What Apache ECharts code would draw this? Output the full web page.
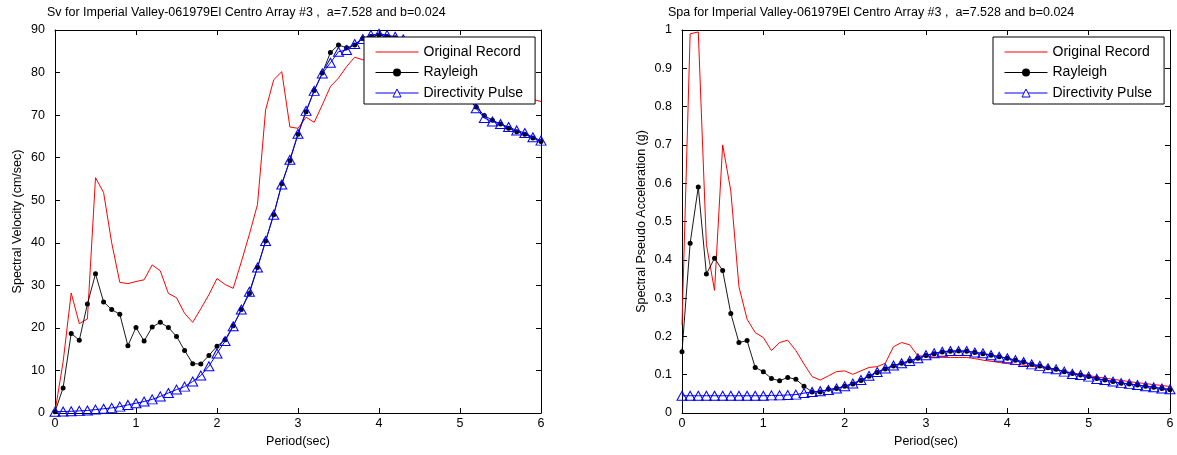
<!DOCTYPE html>
<html><head><meta charset="utf-8">
<script src="https://cdn.jsdelivr.net/npm/echarts@6.0.0/dist/echarts.min.js"></script>
<style>html,body{margin:0;padding:0;background:#fff}#c{width:1177px;height:455px}</style>
</head><body><div id="c"></div>
<script>
const periods = [0,0.1,0.2,0.3,0.4,0.5,0.6,0.7,0.8,0.9,1.0,1.1,1.2,1.3,1.4,1.5,1.6,1.7,1.8,1.9,2.0,2.1,2.2,2.3,2.4,2.5,2.6,2.7,2.8,2.9,3.0,3.1,3.2,3.3,3.4,3.5,3.6,3.7,3.8,3.9,4.0,4.1,4.2,4.3,4.4,4.5,4.6,4.7,4.8,4.9,5.0,5.1,5.2,5.3,5.4,5.5,5.6,5.7,5.8,5.9,6.0];

const seriesNames = ['Original Record', 'Rayleigh', 'Directivity Pulse'];
const titleSv = 'Sv for Imperial Valley-061979El Centro Array #3 ,  a=7.528 and b=0.024';
const titleSpa = 'Spa for Imperial Valley-061979El Centro Array #3 ,  a=7.528 and b=0.024';
const xName = 'Period(sec)';
const yNameSv = 'Spectral Velocity (cm/sec)';
const yNameSpa = 'Spectral Pseudo Acceleration (g)';

// Left chart: spectral velocity (cm/sec)
const svOriginal = [0.3,12,28.2,21,22.1,55.3,51.8,40,30.7,30.4,30.9,31.3,34.8,33.4,28.1,27.1,23.4,21.3,24.5,27.8,31.6,30.2,29.3,35.5,42,49,71.2,78.3,80.2,67.2,66.9,69.5,68.3,72.4,76.7,78.7,81.4,83.6,83,83.5,84,83.8,83.5,83,82.5,82,81.3,80.7,80,79.3,78.6,78,77.3,76.7,76.2,75.7,75.2,74.7,74.2,73.7,73.2];
const svRayleigh = [0.3,5.9,18.7,17.1,25.6,32.7,26.1,24.3,23.2,15.8,20.1,16.9,20.2,21.3,20.1,18.0,14.7,11.6,11.5,13.5,15.7,17.2,20.5,24.3,28.1,34.2,40.4,46.6,53.9,59.3,65.5,70.8,75.8,79.9,84.7,86.5,85.8,86.5,88,88.5,88.8,88.5,88.2,87.6,86.8,85.8,84.6,83.2,81.5,79.2,76.8,74.3,71.9,69.9,68.8,67.9,66.9,66.1,65.5,64.6,63.8];
const svPulse = [0.3,0.35,0.4,0.5,0.6,0.8,1.0,1.2,1.5,1.9,2.3,2.7,3.2,3.9,4.7,5.5,6.2,7.4,8.8,11.0,14.0,16.9,20.4,24.3,28.5,34.2,40.4,46.6,53.7,59.5,65.6,71.0,75.7,79.8,82.3,84.9,85.3,86.7,87.9,88.8,89.1,88.8,88.4,87.8,87.0,86.0,84.8,83.3,81.6,79.3,76.8,74.2,71.6,69.3,68.5,67.9,67.2,66.4,65.8,64.8,64.0];

// Right chart: spectral pseudo acceleration (g)
const spaOriginal = [0.23,0.99,0.995,0.44,0.32,0.70,0.58,0.33,0.245,0.21,0.197,0.163,0.184,0.19,0.163,0.128,0.095,0.086,0.097,0.108,0.11,0.101,0.11,0.119,0.121,0.13,0.173,0.184,0.178,0.149,0.149,0.146,0.145,0.145,0.145,0.145,0.142,0.138,0.135,0.132,0.129,0.127,0.125,0.122,0.119,0.116,0.113,0.109,0.105,0.101,0.098,0.094,0.091,0.088,0.085,0.082,0.079,0.077,0.074,0.072,0.069];
const spaRayleigh = [0.16,0.443,0.59,0.363,0.404,0.372,0.26,0.184,0.189,0.119,0.108,0.09,0.084,0.093,0.088,0.07,0.055,0.055,0.062,0.064,0.07,0.076,0.085,0.096,0.106,0.115,0.123,0.13,0.136,0.143,0.15,0.155,0.159,0.161,0.162,0.161,0.158,0.155,0.151,0.147,0.143,0.138,0.133,0.127,0.123,0.118,0.114,0.108,0.103,0.099,0.095,0.09,0.086,0.082,0.078,0.076,0.073,0.07,0.067,0.064,0.061];
const spaPulse = [0.045,0.045,0.045,0.045,0.045,0.045,0.045,0.045,0.045,0.045,0.045,0.046,0.046,0.047,0.048,0.052,0.055,0.057,0.06,0.064,0.07,0.077,0.086,0.097,0.107,0.116,0.124,0.13,0.136,0.143,0.151,0.156,0.16,0.162,0.162,0.162,0.158,0.156,0.151,0.147,0.143,0.138,0.133,0.127,0.123,0.117,0.114,0.108,0.102,0.099,0.095,0.089,0.086,0.082,0.078,0.076,0.073,0.07,0.067,0.064,0.062];

const FONT = '"Liberation Sans", Arial, Helvetica, sans-serif';
function pairs(xs, ys) { return xs.map((x, i) => [x, ys[i]]); }

function xAxisDef(grid, pos, withLabels) {
  return {
    type: 'value', gridIndex: grid, position: pos, min: 0, max: 6, interval: 1,
    axisLine: { show: true, onZero: false, lineStyle: { color: '#000', width: 1 } },
    axisTick: { show: true, inside: true, length: 5, lineStyle: { color: '#000' } },
    axisLabel: { show: withLabels, color: '#000', fontSize: 12.5, fontFamily: FONT, margin: 4 },
    splitLine: { show: false },
    name: withLabels ? xName : '', nameLocation: 'middle', nameGap: 20,
    nameTextStyle: { color: '#000', fontSize: 12.5, fontFamily: FONT }
  };
}
function yAxisDef(grid, pos, withLabels, max, interval, name, gap) {
  return {
    type: 'value', gridIndex: grid, position: pos, min: 0, max: max, interval: interval,
    axisLine: { show: true, onZero: false, lineStyle: { color: '#000', width: 1 } },
    axisTick: { show: true, inside: true, length: 5, lineStyle: { color: '#000' } },
    axisLabel: { show: withLabels, color: '#000', fontSize: 12.5, fontFamily: FONT, margin: 10 },
    splitLine: { show: false },
    name: withLabels ? name : '', nameLocation: 'middle', nameGap: gap,
    nameTextStyle: { color: '#000', fontSize: 12.5, fontFamily: FONT }
  };
}
function makeSeries(xi, yi, orig, ray, pulse) {
  return [
    { name: seriesNames[0], type: 'line', xAxisIndex: xi, yAxisIndex: yi, data: pairs(periods, orig),
      symbol: 'none', showSymbol: false, lineStyle: { color: '#ff0000', width: 1 }, itemStyle: { color: '#ff0000' },
      emphasis: { disabled: true }, z: 2 },
    { name: seriesNames[1], type: 'line', xAxisIndex: xi, yAxisIndex: yi, data: pairs(periods, ray),
      symbol: 'circle', symbolSize: 5, showAllSymbol: true, lineStyle: { color: '#000', width: 0.9 },
      itemStyle: { color: '#000' }, emphasis: { disabled: true }, z: 3 },
    { name: seriesNames[2], type: 'line', xAxisIndex: xi, yAxisIndex: yi, data: pairs(periods, pulse),
      symbol: 'triangle', symbolSize: [10, 9], showAllSymbol: true, lineStyle: { color: '#0000ff', width: 1 },
      itemStyle: { color: 'rgba(0,0,0,0)', borderColor: '#0000ff', borderWidth: 1 }, emphasis: { disabled: true }, z: 4 }
  ];
}
function legendDef(left) {
  return {
    data: [
      { name: seriesNames[0], itemStyle: { color: 'rgba(0,0,0,0)', borderWidth: 0, opacity: 0 } },
      { name: seriesNames[1] },
      { name: seriesNames[2], itemStyle: { color: '#fff', borderColor: '#0000ff', borderWidth: 1 } }
    ],
    orient: 'vertical', left: left, top: 37,
    padding: [8, 12, 4, 11], itemWidth: 43, itemHeight: 10, itemGap: 6.5,
    lineStyle: { width: 1 },
    borderColor: '#000', borderWidth: 1, backgroundColor: '#fff',
    textStyle: { color: '#000', fontSize: 14, fontFamily: FONT },
    selectedMode: false, z: 10
  };
}

const chart = echarts.init(document.getElementById('c'), null, { renderer: 'canvas' });
chart.setOption({
  animation: false,
  backgroundColor: '#fff',
  title: [
    { text: titleSv, left: 47, top: 6, padding: 0, textStyle: { fontSize: 12.5, fontWeight: 'normal', color: '#000', fontFamily: FONT } },
    { text: titleSpa, left: 668, top: 6, padding: 0, textStyle: { fontSize: 12.5, fontWeight: 'normal', color: '#000', fontFamily: FONT } }
  ],
  legend: [legendDef(364), legendDef(993)],
  grid: [
    { left: 55, right: 636, top: 30, bottom: 42, containLabel: false },
    { left: 682, right: 7, top: 30, bottom: 42, containLabel: false }
  ],
  xAxis: [xAxisDef(0, 'bottom', true), xAxisDef(0, 'top', false), xAxisDef(1, 'bottom', true), xAxisDef(1, 'top', false)],
  yAxis: [
    yAxisDef(0, 'left', true, 90, 10, yNameSv, 31), yAxisDef(0, 'right', false, 90, 10, '', 0),
    yAxisDef(1, 'left', true, 1, 0.1, yNameSpa, 34), yAxisDef(1, 'right', false, 1, 0.1, '', 0)
  ],
  series: [].concat(makeSeries(0, 0, svOriginal, svRayleigh, svPulse), makeSeries(2, 2, spaOriginal, spaRayleigh, spaPulse))
});
</script>
</body></html>
